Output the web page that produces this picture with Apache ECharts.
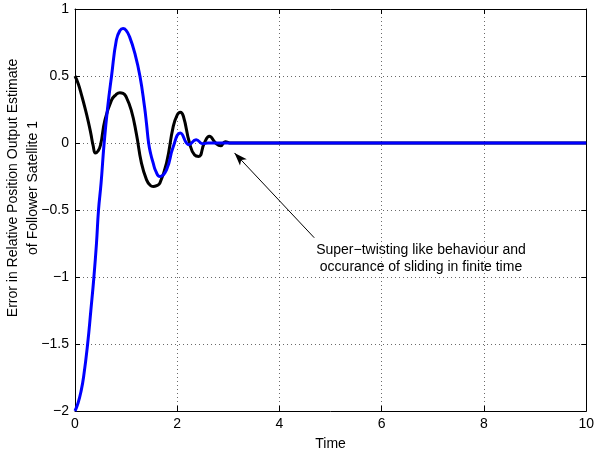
<!DOCTYPE html>
<html>
<head>
<meta charset="utf-8">
<script src="https://cdn.jsdelivr.net/npm/echarts@6/dist/echarts.min.js"></script>
<style>
html,body{margin:0;padding:0;background:#fff;}
#chart{width:597px;height:456px;}
</style>
</head>
<body>
<div id="chart"></div>
<script>
// Black curve (time, value)
const blackT = [0, 0.065, 0.13, 0.2, 0.26, 0.31, 0.355, 0.40, 0.45, 0.5, 0.585, 0.715, 0.8, 0.877, 0.94, 1.0, 1.1, 1.2, 1.3, 1.4, 1.47, 1.53, 1.6, 1.66, 1.79, 1.92, 2.0, 2.06, 2.12, 2.24, 2.34, 2.42, 2.53, 2.63, 2.75, 2.85, 2.94, 3.05, 3.2, 10];
const blackV = [0.5, 0.44, 0.355, 0.255, 0.16, 0.07, -0.02, -0.075, -0.06, -0.015, 0.17, 0.32, 0.36, 0.375, 0.37, 0.345, 0.245, 0.07, -0.15, -0.275, -0.315, -0.325, -0.318, -0.3, -0.15, 0.12, 0.21, 0.23, 0.2, 0.0, -0.09, -0.1, 0.0, 0.05, 0.0, -0.02, 0.01, 0, 0, 0];
// Blue curve (time, value)
const blueT = [0, 0.06, 0.12, 0.17, 0.247, 0.31, 0.37, 0.42, 0.46, 0.51, 0.57, 0.64, 0.715, 0.81, 0.88, 0.94, 1.0, 1.07, 1.17, 1.27, 1.36, 1.4, 1.44, 1.48, 1.53, 1.58, 1.66, 1.79, 1.92, 2.06, 2.23, 2.37, 2.5, 2.6, 10];
const blueV = [-2, -1.94, -1.85, -1.74, -1.5, -1.25, -1.0, -0.75, -0.5, -0.3, 0, 0.27, 0.5, 0.77, 0.84, 0.854, 0.84, 0.79, 0.67, 0.5, 0.27, 0.14, 0.0, -0.08, -0.15, -0.21, -0.25, -0.2, -0.03, 0.074, -0.013, 0.025, -0.005, 0, 0];
const xTicks = [0, 2, 4, 6, 8, 10];
const yTicks = [-2, -1.5, -1, -0.5, 0, 0.5, 1];
const xLabel = 'Time';
const yLabelLines = ['Error in Relative Position Output Estimate', 'of Follower Satellite 1'];
const noteLines = ['Super\u2212twisting like behaviour and', 'occurance of sliding in finite time'];
const arrowFrom = [4.68, -0.707];
const arrowTo = [3.12, -0.074];

const FONT = '"Liberation Sans", Arial, Helvetica, sans-serif';
const pairs = (t, v) => t.map((x, i) => [x, v[i]]);
const fmt = v => (v < 0 ? '\u2212' + String(-v) : String(v));

const chart = echarts.init(document.getElementById('chart'), null, {renderer: 'canvas'});
const gridLine = {show: true, lineStyle: {color: '#444', width: 0.8, type: [1, 3]}};
chart.setOption({
  animation: false,
  backgroundColor: '#fff',
  grid: {left: 75, right: 9, top: 9, bottom: 44},
  xAxis: [{
    type: 'value', min: xTicks[0], max: xTicks[xTicks.length - 1], interval: 2,
    axisLine: {show: true, onZero: false, lineStyle: {color: '#000', width: 1}},
    axisTick: {show: true, inside: true, length: 5, lineStyle: {color: '#000'}},
    axisLabel: {color: '#000', fontSize: 14, fontFamily: FONT, margin: 6, formatter: fmt},
    splitLine: gridLine,
    name: xLabel, nameLocation: 'middle', nameGap: 26,
    nameTextStyle: {color: '#000', fontSize: 14, fontFamily: FONT}
  }, {
    type: 'value', position: 'top', min: 0, max: 10, interval: 2,
    axisLine: {show: true, onZero: false, lineStyle: {color: '#000', width: 1}},
    axisTick: {show: true, inside: true, length: 5, lineStyle: {color: '#000'}},
    axisLabel: {show: false}, splitLine: {show: false}
  }],
  yAxis: [{
    type: 'value', min: yTicks[0], max: yTicks[yTicks.length - 1], interval: 0.5,
    axisLine: {show: true, onZero: false, lineStyle: {color: '#000', width: 1}},
    axisTick: {show: true, inside: true, length: 5, lineStyle: {color: '#000'}},
    axisLabel: {color: '#000', fontSize: 14, fontFamily: FONT, margin: 6, formatter: fmt},
    splitLine: gridLine
  }, {
    type: 'value', position: 'right', min: -2, max: 1, interval: 0.5,
    axisLine: {show: true, onZero: false, lineStyle: {color: '#000', width: 1}},
    axisTick: {show: true, inside: true, length: 5, lineStyle: {color: '#000'}},
    axisLabel: {show: false}, splitLine: {show: false}
  }],
  series: [{
    type: 'line', data: pairs(blackT, blackV), smooth: 0.5, showSymbol: false,
    lineStyle: {color: '#000', width: 3}, z: 3,
    markLine: {
      silent: true, symbol: ['none', 'arrow'], symbolSize: [7, 13],
      label: {show: false},
      lineStyle: {color: '#000', width: 1, type: 'solid'},
      data: [[{coord: arrowFrom}, {coord: arrowTo}]]
    }
  }, {
    type: 'line', data: pairs(blueT, blueV), smooth: 0.5, showSymbol: false,
    lineStyle: {color: '#0000ff', width: 3}, z: 4
  }],
  graphic: [{
    type: 'text', x: 23, y: 188, rotation: Math.PI / 2,
    style: {text: yLabelLines.join('\n'), fontSize: 14, fontFamily: FONT, fill: '#000',
      align: 'center', verticalAlign: 'middle', lineHeight: 20}
  }, {
    type: 'text', x: 421, y: 259,
    style: {text: noteLines.join('\n'), fontSize: 14, fontFamily: FONT, fill: '#000',
      align: 'center', verticalAlign: 'middle', lineHeight: 17}
  }]
});
</script>
</body>
</html>
